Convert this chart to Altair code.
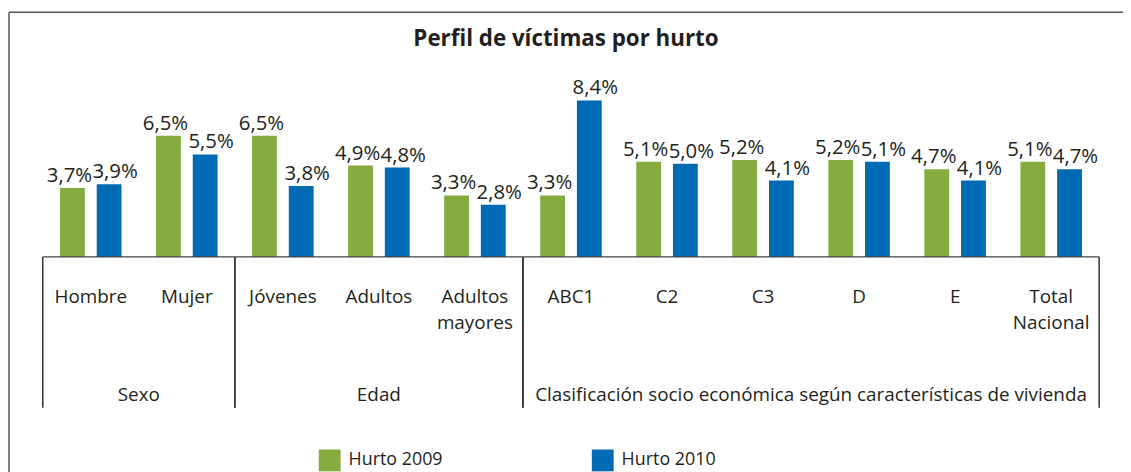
import altair as alt
import pandas as pd

# ---- data -------------------------------------------------------------
categories = ["Hombre", "Mujer", "Jóvenes", "Adultos", "Adultos mayores",
              "ABC1", "C2", "C3", "D", "E", "Total Nacional"]
category_lines = [["Hombre"], ["Mujer"], ["Jóvenes"], ["Adultos"], ["Adultos", "mayores"],
                  ["ABC1"], ["C2"], ["C3"], ["D"], ["E"], ["Total", "Nacional"]]
groups = (["Sexo"] * 2 + ["Edad"] * 3 +
          ["Clasificación socio económica según características de vivienda"] * 6)
series = ["Hurto 2009", "Hurto 2010"]
hurto_2009 = [3.7, 6.5, 6.5, 4.9, 3.3, 3.3, 5.1, 5.2, 5.2, 4.7, 5.1]
hurto_2010 = [3.9, 5.5, 3.8, 4.8, 2.8, 8.4, 5.0, 4.1, 5.1, 4.1, 4.7]
colors = ["#86AC40", "#006BB4"]

rows = []
for i, c in enumerate(categories):
    for s, vals in zip(series, [hurto_2009, hurto_2010]):
        rows.append({"category": c, "series": s, "value": vals[i],
                     "label": f"{vals[i]:.1f}".replace(".", ",") + "%"})
df = pd.DataFrame(rows)
cat_df = pd.DataFrame({"category": categories, "lines": category_lines,
                       "group": groups, "idx": list(range(len(categories)))})
one = pd.DataFrame({"k": [0]})

# ---- layout constants ---------------------------------------------------
W, H = 1064, 197
FONT = "Open Sans"
TXT = "#231F20"

xband = alt.X("category:N", sort=categories,
              scale=alt.Scale(paddingInner=0, paddingOuter=0), axis=None)
xoff = alt.XOffset("series:N", sort=series,
                   scale=alt.Scale(paddingInner=0.324, paddingOuter=0.47))
yq = alt.Y("value:Q", scale=alt.Scale(domain=[0, 10.5], nice=False), axis=None)

base = alt.Chart(df)
bars = base.mark_bar().encode(
    x=xband, xOffset=xoff, y=yq,
    color=alt.Color("series:N", sort=series,
                    scale=alt.Scale(domain=series, range=colors),
                    legend=alt.Legend(title=None, orient="none", legendX=278, legendY=391,
                                      direction="horizontal", symbolType="square",
                                      symbolSize=484, symbolStrokeWidth=0,
                                      labelFontSize=18, labelFont=FONT, labelColor=TXT,
                                      columnPadding=150, labelOffset=8, padding=0)),
)
# value labels: 2009 labels nudged slightly left, 2010 labels to the right (as in the source)
values_2009 = base.transform_filter(alt.datum.series == series[0]).mark_text(
    baseline="bottom", dy=-2, dx=-3, fontSize=20.5, font=FONT, color=TXT
).encode(x=xband, xOffset=xoff, y=yq, text="label:N")
values_2010 = base.transform_filter(alt.datum.series == series[1]).mark_text(
    baseline="bottom", dy=-2, dx=6, fontSize=20.5, font=FONT, color=TXT
).encode(x=xband, xOffset=xoff, y=yq, text="label:N")

cat_labels = alt.Chart(cat_df).mark_text(
    baseline="alphabetic", fontSize=19, font=FONT, color=TXT, lineHeight=27
).encode(x=xband, y=alt.value(243), text="lines")

xq = alt.Scale(domain=[-0.5, len(categories) - 0.5], nice=False, zero=False)
grp = alt.Chart(cat_df).transform_aggregate(
    lo="min(idx)", hi="max(idx)", groupby=["group"]
).transform_calculate(center="(datum.lo + datum.hi) / 2",
                      left="datum.lo - 0.5", right="datum.hi + 0.5")
group_text = grp.mark_text(baseline="alphabetic", fontSize=19, font=FONT, color=TXT).encode(
    x=alt.X("center:Q", scale=xq, axis=None), y=alt.value(342), text="group:N")
group_rules = grp.transform_fold(["left", "right"], as_=["side", "edge"]).mark_rule(
    color="#333333", strokeWidth=1.5
).encode(x=alt.X("edge:Q", scale=xq, axis=None), y=alt.value(H), y2=alt.value(349))

baseline = alt.Chart(one).mark_rule(color="#444444", strokeWidth=1.5).encode(
    x=alt.value(0), x2=alt.value(W), y=alt.value(H))
frame_top = alt.Chart(one).mark_rule(color="#555555", strokeWidth=1.5).encode(
    x=alt.value(-34), x2=alt.value(1100), y=alt.value(-49.5))
frame_left = alt.Chart(one).mark_rule(color="#555555", strokeWidth=1.5).encode(
    x=alt.value(-34), y=alt.value(-49.5), y2=alt.value(420))

chart = alt.layer(
    frame_top, frame_left, bars, values_2009, values_2010, cat_labels, baseline,
    group_text, group_rules
).resolve_scale(x="independent").properties(
    width=W, height=H,
    autosize=alt.AutoSizeParams(type="none"),
    padding={"left": 35, "top": 52, "right": 24, "bottom": 215},
    title=alt.TitleParams("Perfil de víctimas por hurto", anchor="middle", fontSize=22.5,
                          font=FONT, fontWeight="bold", color=TXT, offset=-39, dx=-5),
).configure_view(stroke=None)

chart.save("out.html", embed_options={"renderer": "svg", "actions": False})
